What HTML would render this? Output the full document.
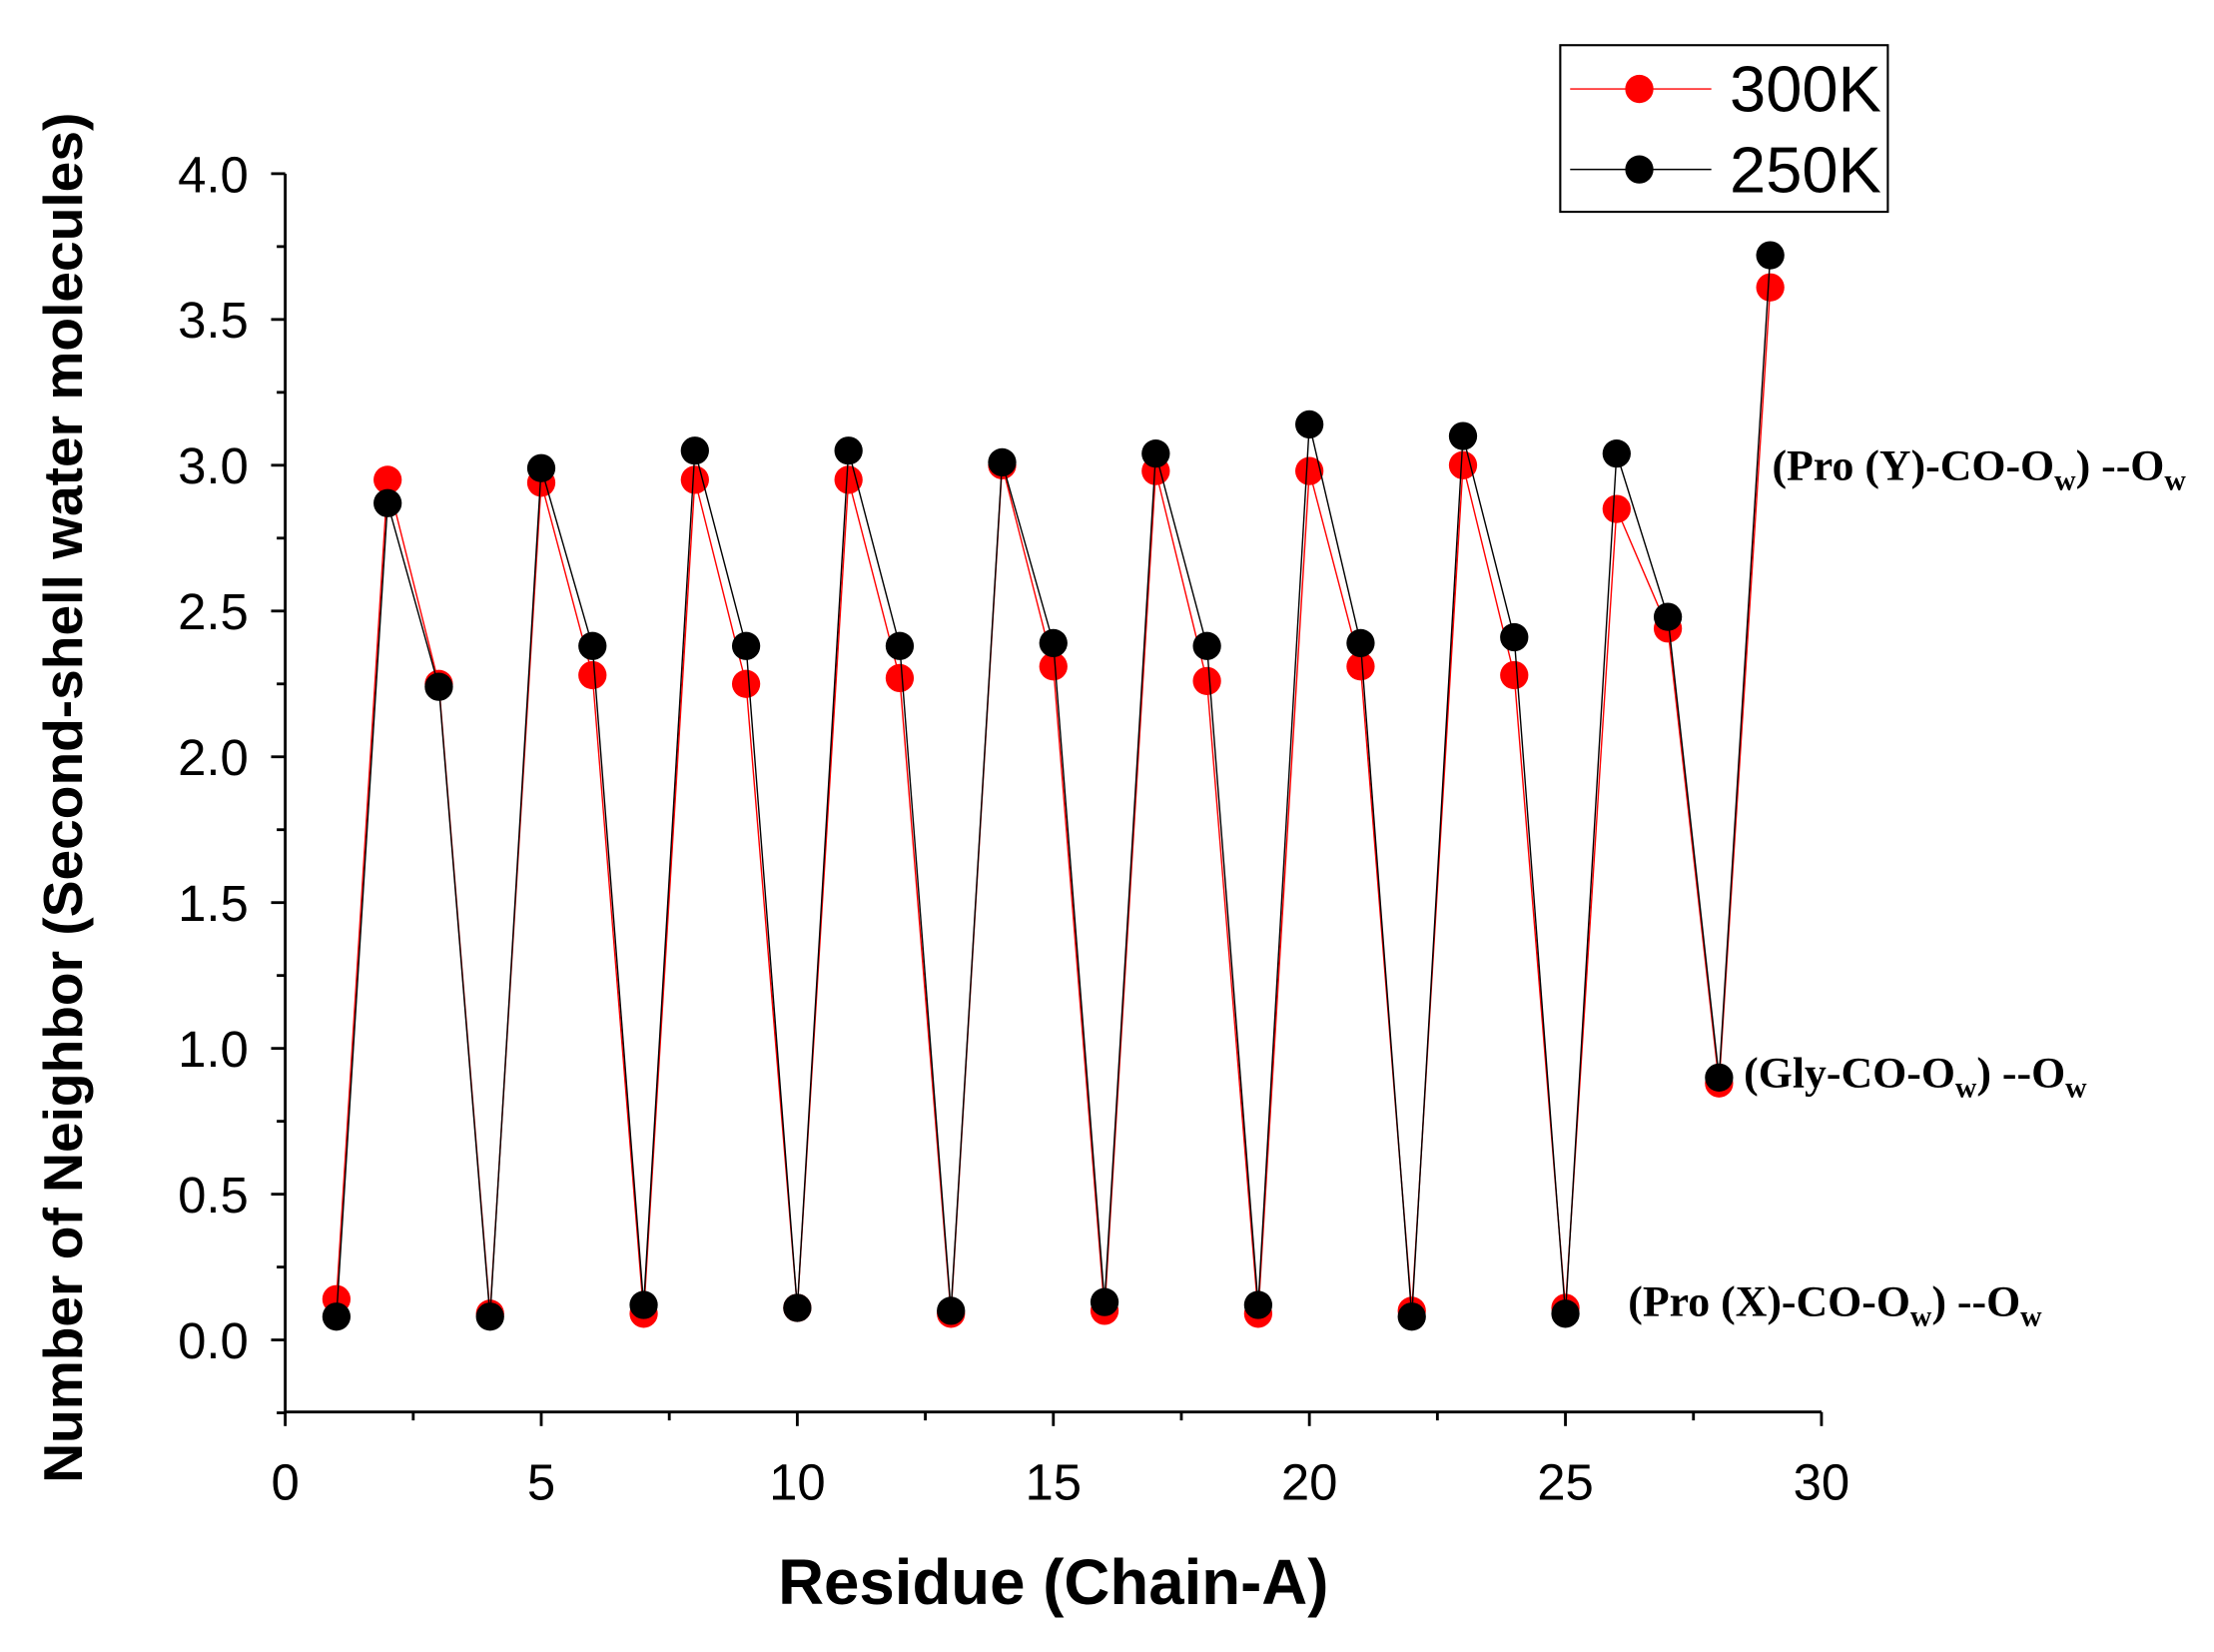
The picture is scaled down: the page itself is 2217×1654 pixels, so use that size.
<!DOCTYPE html>
<html><head><meta charset="utf-8"><style>html,body{margin:0;padding:0;background:#fff}svg{display:block}</style></head>
<body>
<svg id="chart" xmlns="http://www.w3.org/2000/svg" width="2217" height="1654" viewBox="0 0 1568 1170" preserveAspectRatio="none" font-family="'Liberation Sans', sans-serif">
<rect width="1568" height="1170" fill="#fff"/>
<g id="axes"></g>
<g id="series"></g>
<text transform="translate(58,565) rotate(-90)" text-anchor="middle" font-size="39" font-weight="bold">Number of Neighbor (Second-shell water molecules)</text>
<text x="746" y="1136" text-anchor="middle" font-size="45" font-weight="bold">Residue (Chain-A)</text>
<g>
<rect x="1105" y="32" width="232" height="118" fill="#fff" stroke="#000" stroke-width="1.5"/>
<line x1="1112" y1="63" x2="1212" y2="63" stroke="#f00" stroke-width="1"/>
<circle cx="1161" cy="63" r="10" fill="#f00"/>
<text x="1225" y="79" font-size="46">300K</text>
<line x1="1112" y1="120" x2="1212" y2="120" stroke="#000" stroke-width="1"/>
<circle cx="1161" cy="120" r="10" fill="#000"/>
<text x="1225" y="136" font-size="46">250K</text>
</g>
<g font-family="'Liberation Serif', serif" font-weight="bold" font-size="31">
<text x="1255" y="340">(Pro (Y)-CO-O<tspan font-size="21" dy="7">w</tspan><tspan dy="-7">) --O</tspan><tspan font-size="21" dy="7">w</tspan></text>
<text x="1235" y="770">(Gly-CO-O<tspan font-size="21" dy="7">w</tspan><tspan dy="-7">) --O</tspan><tspan font-size="21" dy="7">w</tspan></text>
<text x="1153" y="932">(Pro (X)-CO-O<tspan font-size="21" dy="7">w</tspan><tspan dy="-7">) --O</tspan><tspan font-size="21" dy="7">w</tspan></text>
</g>
</svg>
<script>
const residues = [1,2,3,4,5,6,7,8,9,10,11,12,13,14,15,16,17,18,19,20,21,22,23,24,25,26,27,28,29];
const values300K = [0.14,2.95,2.25,0.09,2.94,2.28,0.09,2.95,2.25,0.11,2.95,2.27,0.09,3.00,2.31,0.10,2.98,2.26,0.09,2.98,2.31,0.10,3.00,2.28,0.11,2.85,2.44,0.88,3.61];
const values250K = [0.08,2.87,2.24,0.08,2.99,2.38,0.12,3.05,2.38,0.11,3.05,2.38,0.10,3.01,2.39,0.13,3.04,2.38,0.12,3.14,2.39,0.08,3.10,2.41,0.09,3.04,2.48,0.90,3.72];
const xTicks = [0,5,10,15,20,25,30];
const yTicks = ["0.0","0.5","1.0","1.5","2.0","2.5","3.0","3.5","4.0"];

const NS="http://www.w3.org/2000/svg";
const X0=202,X1=1290,Y0=949,Y4=123,YB=1000;
const xs=v=>X0+(X1-X0)*v/30;
const ys=v=>Y0-(Y0-Y4)*v/4;
function mk(tag,attrs,parent){const e=document.createElementNS(NS,tag);for(const k in attrs)e.setAttribute(k,attrs[k]);parent.appendChild(e);return e;}
const ax=document.getElementById('axes');
let l=mk('line',{x1:X0,y1:Y4,x2:X0,y2:YB,stroke:'#000','stroke-width':2},ax);


l=mk('line',{x1:X0,y1:YB,x2:X1,y2:YB,stroke:'#000','stroke-width':2},ax);


xTicks.forEach(t=>{
  mk('line',{x1:xs(t),y1:YB,x2:xs(t),y2:YB+10,stroke:'#000','stroke-width':2},ax);
  if(t<30)mk('line',{x1:xs(t+2.5),y1:YB,x2:xs(t+2.5),y2:YB+6,stroke:'#000','stroke-width':2},ax);
  const tx=mk('text',{x:xs(t),y:YB+62,'text-anchor':'middle','font-size':36},ax);
  tx.textContent=t;
  
  
});
mk('line',{x1:X0,y1:ys(-0.25),x2:X0-6,y2:ys(-0.25),stroke:'#000','stroke-width':2},ax);
yTicks.forEach(s=>{
  const t=parseFloat(s);
  mk('line',{x1:X0,y1:ys(t),x2:X0-10,y2:ys(t),stroke:'#000','stroke-width':2},ax);
  if(t<4)mk('line',{x1:X0,y1:ys(t+0.25),x2:X0-6,y2:ys(t+0.25),stroke:'#000','stroke-width':2},ax);
  const tx=mk('text',{x:X0-26,y:ys(t)+13,'text-anchor':'end','font-size':36},ax);
  tx.textContent=s;
  
  
});
const sg=document.getElementById('series');
function series(vals,color,name){
  const g=mk('g',{},sg);
  
  
  mk('polyline',{points:residues.map((r,i)=>xs(r)+','+ys(vals[i])).join(' '),fill:'none',stroke:color,'stroke-width':1},g);
  residues.forEach((r,i)=>{
    const c=mk('circle',{cx:xs(r),cy:ys(vals[i]),r:10,fill:color},g);
    
    
  });
}
series(values300K,'#f00','series-300k');
series(values250K,'#000','series-250k');
</script>
</body></html>
